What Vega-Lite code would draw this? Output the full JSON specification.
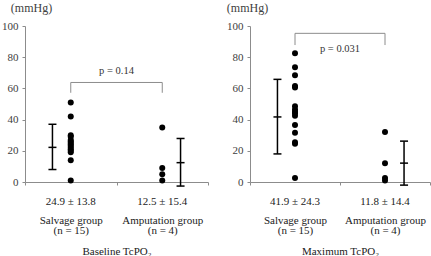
{
  "$schema": "https://vega.github.io/schema/vega-lite/v6.json",
  "padding": {"left": 1, "top": 1, "right": 1, "bottom": 0},
  "background": "white",
  "config": {
    "view": {"stroke": null},
    "font": "Liberation Serif",
    "axis": {
      "grid": false,
      "domainColor": "#8c8c8c",
      "tickColor": "#8c8c8c",
      "labelFont": "Liberation Serif",
      "titleFont": "Liberation Serif",
      "labelFontSize": 11,
      "titleFontSize": 11,
      "titleFontWeight": "normal",
      "labelColor": "#333333",
      "titleColor": "#333333",
      "tickSize": 3
    },
    "axisY": {
      "labelOverlap": false,
      "values": [0, 20, 40, 60, 80, 100],
      "labelPadding": 4,
      "labelColor": "#404040",
      "titleColor": "#404040",
      "titleFontSize": 12,
      "titleAngle": 0,
      "titleAlign": "center",
      "titleBaseline": "middle",
      "titleY": -19
    }
  },
  "datasets": {
    "bdots": [
      {"group": "Salvage group", "v": 51}, {"group": "Salvage group", "v": 42}, {"group": "Salvage group", "v": 30},
      {"group": "Salvage group", "v": 29}, {"group": "Salvage group", "v": 27}, {"group": "Salvage group", "v": 26},
      {"group": "Salvage group", "v": 25}, {"group": "Salvage group", "v": 24}, {"group": "Salvage group", "v": 23},
      {"group": "Salvage group", "v": 22}, {"group": "Salvage group", "v": 21}, {"group": "Salvage group", "v": 20},
      {"group": "Salvage group", "v": 19}, {"group": "Salvage group", "v": 14}, {"group": "Salvage group", "v": 1},
      {"group": "Amputation group", "v": 35}, {"group": "Amputation group", "v": 9},
      {"group": "Amputation group", "v": 5}, {"group": "Amputation group", "v": 1}
    ],
    "berr": [
      {"group": "Salvage group", "side": "L", "lo": 8, "mean": 22.2, "hi": 37},
      {"group": "Amputation group", "side": "R", "lo": -2.6, "mean": 12.4, "hi": 27.9}
    ],
    "bbr": [
      {"group": "Salvage group", "v": 57.2, "o": 1},
      {"group": "Salvage group", "v": 63.8, "o": 2},
      {"group": "Amputation group", "v": 63.8, "o": 3},
      {"group": "Amputation group", "v": 57.2, "o": 4}
    ],
    "bp": [{"group": "Salvage group", "v": 71.2, "label": "p = 0.14"}],
    "bstat": [
      {"group": "Salvage group", "v": -13, "label": "24.9 ± 13.8"},
      {"group": "Amputation group", "v": -13, "label": "12.5 ± 15.4"}
    ],
    "mdots": [
      {"group": "Salvage group", "v": 82.5}, {"group": "Salvage group", "v": 73.5}, {"group": "Salvage group", "v": 68.5},
      {"group": "Salvage group", "v": 61.5}, {"group": "Salvage group", "v": 60.5}, {"group": "Salvage group", "v": 48.5},
      {"group": "Salvage group", "v": 46.5}, {"group": "Salvage group", "v": 45}, {"group": "Salvage group", "v": 44},
      {"group": "Salvage group", "v": 42.5}, {"group": "Salvage group", "v": 36.5}, {"group": "Salvage group", "v": 31.5},
      {"group": "Salvage group", "v": 25.5}, {"group": "Salvage group", "v": 24.5}, {"group": "Salvage group", "v": 2.5},
      {"group": "Amputation group", "v": 32}, {"group": "Amputation group", "v": 12},
      {"group": "Amputation group", "v": 2.5}, {"group": "Amputation group", "v": 1}
    ],
    "merr": [
      {"group": "Salvage group", "side": "L", "lo": 18, "mean": 41.7, "hi": 65.8},
      {"group": "Amputation group", "side": "R", "lo": -2, "mean": 12.1, "hi": 26.2}
    ],
    "mbr": [
      {"group": "Salvage group", "v": 87.8, "o": 1},
      {"group": "Salvage group", "v": 95.3, "o": 2},
      {"group": "Amputation group", "v": 95.3, "o": 3},
      {"group": "Amputation group", "v": 87.8, "o": 4}
    ],
    "mp": [{"group": "Salvage group", "v": 85.2, "label": "p = 0.031"}],
    "mstat": [
      {"group": "Salvage group", "v": -13, "label": "41.9 ± 24.3"},
      {"group": "Amputation group", "v": -13, "label": "11.8 ± 14.4"}
    ]
  },
  "bounds": "flush",
  "spacing": 42,
  "hconcat": [
    {
      "width": 183,
      "height": 156,
      "layer": [
        {
          "data": {"name": "bbr"},
          "mark": {"type": "line", "color": "#8c8c8c", "strokeWidth": 1},
          "encoding": {
            "x": {
              "field": "group", "type": "nominal",
              "scale": {"domain": ["Salvage group", "Amputation group"], "paddingInner": 0, "paddingOuter": 0},
              "axis": {
                "title": "Baseline TcPO₂",
                "titleColor": "#222222",
                "titleBaseline": "middle",
                "titleY": 69,
                "tickBand": "extent",
                "labelAngle": 0,
                "labelOverlap": false,
                "labelColor": "#222222",
                "labelLineHeight": 10.5,
                "labelPadding": 29,
                "labelExpr": "datum.extra ? '' : (datum.value == 'Salvage group' ? ['Salvage group', '(n = 15)'] : ['Amputation group', '(n = 4)'])"
              }
            },
            "y": {
              "field": "v", "type": "quantitative",
              "scale": {"domain": [0, 100], "nice": false},
              "axis": {"title": "(mmHg)", "titleX": 6, "values": [0, 20, 40, 60, 80, 100], "labelOverlap": false}
            },
            "order": {"field": "o", "type": "quantitative"}
          }
        },
        {
          "data": {"name": "bp"},
          "mark": {"type": "text", "fontSize": 10.5, "color": "#333333"},
          "encoding": {
            "x": {"field": "group", "type": "nominal", "bandPosition": 1},
            "y": {"field": "v", "type": "quantitative", "axis": {"title": "(mmHg)", "titleX": 6, "values": [0, 20, 40, 60, 80, 100], "labelOverlap": false}},
            "text": {"field": "label"}
          }
        },
        {
          "data": {"name": "bstat"},
          "mark": {"type": "text", "fontSize": 11, "color": "#222222", "baseline": "middle"},
          "encoding": {
            "x": {"field": "group", "type": "nominal"},
            "y": {"field": "v", "type": "quantitative", "axis": {"title": "(mmHg)", "titleX": 6, "values": [0, 20, 40, 60, 80, 100], "labelOverlap": false}},
            "text": {"field": "label"}
          }
        },
        {
          "data": {"name": "berr"},
          "mark": {"type": "rule", "color": "black", "strokeWidth": 1.5},
          "encoding": {
            "x": {"field": "group", "type": "nominal"},
            "xOffset": {"field": "side", "type": "nominal", "scale": {"domain": ["a", "L", "C", "R", "b"], "paddingInner": 0, "paddingOuter": 0}},
            "y": {"field": "lo", "type": "quantitative", "axis": {"title": "(mmHg)", "titleX": 6, "values": [0, 20, 40, 60, 80, 100], "labelOverlap": false}},
            "y2": {"field": "hi"}
          }
        },
        {
          "data": {"name": "berr"},
          "transform": [{"fold": ["lo", "mean", "hi"], "as": ["k", "val"]}],
          "mark": {"type": "tick", "color": "black", "thickness": 1.5, "size": 8, "opacity": 1},
          "encoding": {
            "x": {"field": "group", "type": "nominal"},
            "xOffset": {"field": "side", "type": "nominal"},
            "y": {"field": "val", "type": "quantitative", "axis": {"title": "(mmHg)", "titleX": 6, "values": [0, 20, 40, 60, 80, 100], "labelOverlap": false}}
          }
        },
        {
          "data": {"name": "bdots"},
          "mark": {"type": "circle", "color": "black", "opacity": 1, "size": 36},
          "encoding": {
            "x": {"field": "group", "type": "nominal"},
            "y": {"field": "v", "type": "quantitative", "axis": {"title": "(mmHg)", "titleX": 6, "values": [0, 20, 40, 60, 80, 100], "labelOverlap": false}}
          }
        }
      ]
    },
    {
      "width": 180,
      "height": 156,
      "layer": [
        {
          "data": {"name": "mbr"},
          "mark": {"type": "line", "color": "#8c8c8c", "strokeWidth": 1},
          "encoding": {
            "x": {
              "field": "group", "type": "nominal",
              "scale": {"domain": ["Salvage group", "Amputation group"], "paddingInner": 0, "paddingOuter": 0},
              "axis": {
                "title": "Maximum TcPO₂",
                "titleColor": "#222222",
                "titleBaseline": "middle",
                "titleY": 69,
                "tickBand": "extent",
                "labelAngle": 0,
                "labelOverlap": false,
                "labelColor": "#222222",
                "labelLineHeight": 10.5,
                "labelPadding": 29,
                "labelExpr": "datum.extra ? '' : (datum.value == 'Salvage group' ? ['Salvage group', '(n = 15)'] : ['Amputation group', '(n = 4)'])"
              }
            },
            "y": {
              "field": "v", "type": "quantitative",
              "scale": {"domain": [0, 100], "nice": false},
              "axis": {"title": "(mmHg)", "titleX": -3, "values": [0, 20, 40, 60, 80, 100], "labelOverlap": false}
            },
            "order": {"field": "o", "type": "quantitative"}
          }
        },
        {
          "data": {"name": "mp"},
          "mark": {"type": "text", "fontSize": 10.5, "color": "#333333"},
          "encoding": {
            "x": {"field": "group", "type": "nominal", "bandPosition": 1},
            "y": {"field": "v", "type": "quantitative", "axis": {"title": "(mmHg)", "titleX": -3, "values": [0, 20, 40, 60, 80, 100], "labelOverlap": false}},
            "text": {"field": "label"}
          }
        },
        {
          "data": {"name": "mstat"},
          "mark": {"type": "text", "fontSize": 11, "color": "#222222", "baseline": "middle"},
          "encoding": {
            "x": {"field": "group", "type": "nominal"},
            "y": {"field": "v", "type": "quantitative", "axis": {"title": "(mmHg)", "titleX": -3, "values": [0, 20, 40, 60, 80, 100], "labelOverlap": false}},
            "text": {"field": "label"}
          }
        },
        {
          "data": {"name": "merr"},
          "mark": {"type": "rule", "color": "black", "strokeWidth": 1.5},
          "encoding": {
            "x": {"field": "group", "type": "nominal"},
            "xOffset": {"field": "side", "type": "nominal", "scale": {"domain": ["a", "L", "C", "R", "b"], "paddingInner": 0, "paddingOuter": 0}},
            "y": {"field": "lo", "type": "quantitative", "axis": {"title": "(mmHg)", "titleX": -3, "values": [0, 20, 40, 60, 80, 100], "labelOverlap": false}},
            "y2": {"field": "hi"}
          }
        },
        {
          "data": {"name": "merr"},
          "transform": [{"fold": ["lo", "mean", "hi"], "as": ["k", "val"]}],
          "mark": {"type": "tick", "color": "black", "thickness": 1.5, "size": 8, "opacity": 1},
          "encoding": {
            "x": {"field": "group", "type": "nominal"},
            "xOffset": {"field": "side", "type": "nominal"},
            "y": {"field": "val", "type": "quantitative", "axis": {"title": "(mmHg)", "titleX": -3, "values": [0, 20, 40, 60, 80, 100], "labelOverlap": false}}
          }
        },
        {
          "data": {"name": "mdots"},
          "mark": {"type": "circle", "color": "black", "opacity": 1, "size": 36},
          "encoding": {
            "x": {"field": "group", "type": "nominal"},
            "y": {"field": "v", "type": "quantitative", "axis": {"title": "(mmHg)", "titleX": -3, "values": [0, 20, 40, 60, 80, 100], "labelOverlap": false}}
          }
        }
      ]
    }
  ]
}
